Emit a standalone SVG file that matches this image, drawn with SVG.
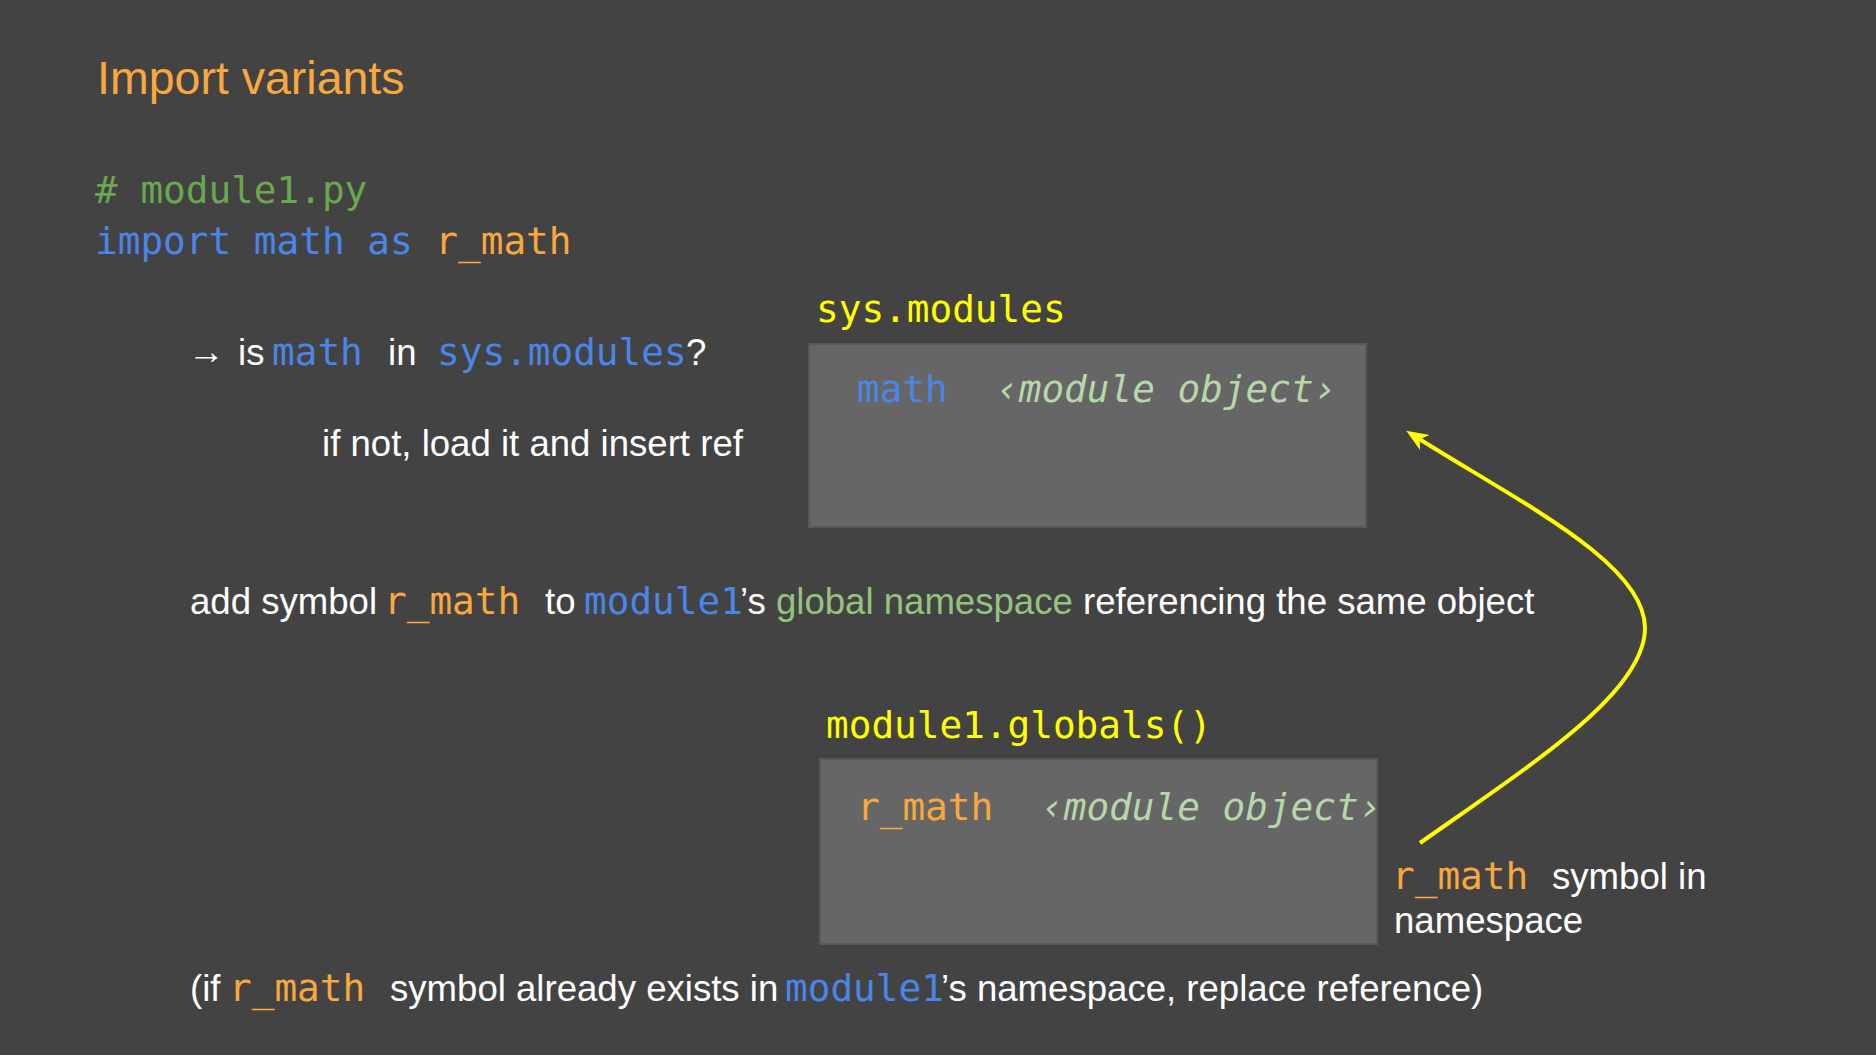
<svg xmlns="http://www.w3.org/2000/svg" width="1876" height="1055" viewBox="0 0 1876 1055">
  <style>
    .sans { font-family: "Liberation Sans", Arial, sans-serif; font-size: 36.6px; fill: #ffffff; }
    .mono { font-family: "DejaVu Sans Mono", "Liberation Mono", monospace; font-size: 37.7px; }
    .title { font-family: "Liberation Sans", Arial, sans-serif; font-size: 46.5px; fill: #f9a83e; }
    .blue { fill: #4a86e8; }
    .orange { fill: #f9a83e; }
    .comment { fill: #6aa84f; }
    .green { fill: #93c47d; }
    .yellow { fill: #ffff00; }
    .obj { fill: #b6d7a8; font-style: italic; }
    .box { fill: #666666; stroke: #595959; stroke-width: 2; }
    .link { fill: none; stroke: #ffff00; stroke-width: 4; }
  </style>
  <defs>
    <marker id="arrowhead" markerUnits="userSpaceOnUse" markerWidth="24" markerHeight="20" viewBox="0 -10 24 20" refX="14" refY="0" orient="auto">
      <path d="M22,0 L0,-9 L6,0 L0,9 Z" fill="#ffff00"/>
    </marker>
  </defs>

  <rect x="0" y="0" width="1876" height="1055" fill="#434343"/>

  <text class="title" x="97" y="94">Import variants</text>

  <g id="code">
    <text class="mono comment" x="95" y="203"># module1.py</text>
    <text class="mono" x="95" y="254"><tspan class="blue">import math as </tspan><tspan class="orange">r_math</tspan></text>
  </g>

  <g id="lookup-step">
    <text class="sans" x="188" y="364" font-size="31">→</text>
    <text class="sans" x="238" y="365">is</text>
    <text class="mono blue" x="272" y="365">math</text>
    <text class="sans" x="388" y="365">in</text>
    <text class="mono blue" x="437" y="365">sys.modules</text>
    <text class="sans" x="686" y="365">?</text>
    <text class="sans" x="322" y="456">if not, load it and insert ref</text>
  </g>

  <g id="sys-modules">
    <text class="mono yellow" x="816" y="322">sys.modules</text>
    <rect class="box" x="809" y="344" width="557" height="183"/>
    <text class="mono blue" x="857" y="402">math</text>
    <text class="mono obj" x="996" y="402">‹module object›</text>
  </g>

  <g id="bind-step">
    <text class="sans" x="190" y="614">add symbol</text>
    <text class="mono orange" x="384" y="614">r_math</text>
    <text class="sans" x="545" y="614">to</text>
    <text class="mono blue" x="584" y="614">module1</text>
    <text class="sans" x="740" y="614">’s <tspan class="green">global namespace</tspan> referencing the same object</text>
  </g>

  <g id="module1-globals">
    <text class="mono yellow" x="826" y="738">module1.globals()</text>
    <rect class="box" x="820" y="759" width="557" height="185"/>
    <text class="mono orange" x="857" y="820">r_math</text>
    <text class="mono obj" x="1041" y="820">‹module object›</text>
  </g>

  <g id="symbol-note">
    <text class="mono orange" x="1392" y="889">r_math</text>
    <text class="sans" x="1552" y="889">symbol in</text>
    <text class="sans" x="1394" y="933">namespace</text>
  </g>

  <g id="replace-note">
    <text class="sans" x="190" y="1001">(if</text>
    <text class="mono orange" x="229" y="1001">r_math</text>
    <text class="sans" x="390" y="1001">symbol already exists in</text>
    <text class="mono blue" x="785" y="1001">module1</text>
    <text class="sans" x="941" y="1001">’s namespace, replace reference)</text>
  </g>

  <g id="connectors">
    <path class="link" d="M1420,843 C1535,762 1645,692 1645,628 C1645,562 1515,500 1413,435" marker-end="url(#arrowhead)"/>
  </g>
</svg>
